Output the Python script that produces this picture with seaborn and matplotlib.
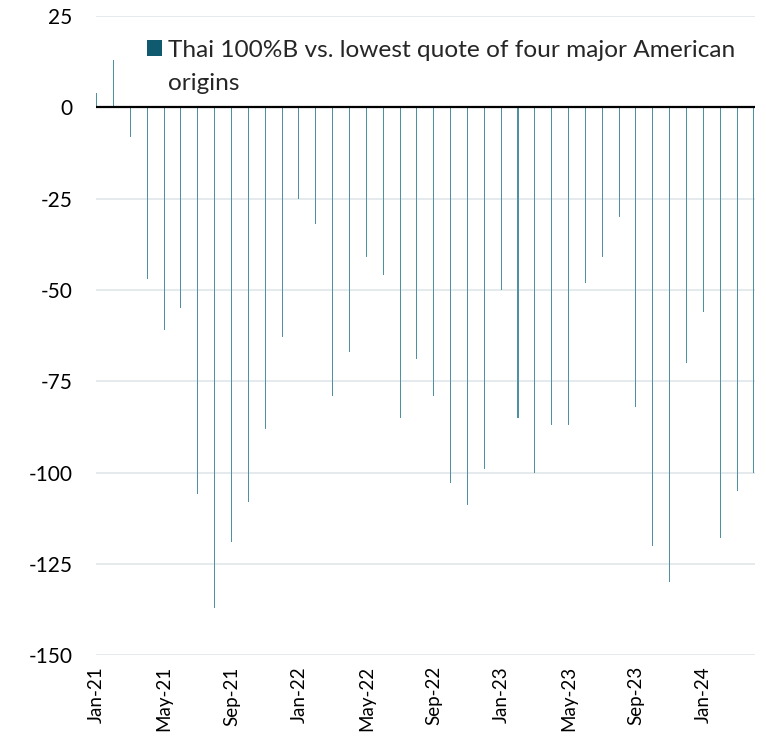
import numpy as np
import pandas as pd
import matplotlib
matplotlib.use("Agg")
import matplotlib.pyplot as plt
import seaborn as sns

# Monthly spread, Jan-21 .. Apr-24 (USD/t)
months = pd.date_range("2021-01-01", "2024-04-01", freq="MS").strftime("%b-%y").tolist()
spread = [4, 13, -8, -47, -61, -55, -106, -137, -119, -108, -88, -63,
          -25, -32, -79, -67, -41, -46, -85, -69, -79, -103, -109, -99,
          -50, -85, -100, -87, -87, -48, -41, -30, -82, -120, -130, -70,
          -56, -118, -105, -100]
series_name = "Thai 100%B vs. lowest quote of four major American"
series_name_cont = "origins"
yticks = [25, 0, -25, -50, -75, -100, -125, -150]

df = pd.DataFrame({"month": months, "spread": spread})

sns.set_theme(style="white")
plt.rcParams["font.family"] = ["Lato", "DejaVu Sans"]

fig = plt.figure(figsize=(7.66, 7.36), dpi=100)
ax = fig.add_axes([0.1253, 0.110, 0.8603, 0.868])

legend_color = "#0f5a6e"
bar_color = "#4f91a3"
sns.barplot(data=df, x="month", y="spread", color=bar_color, width=0.06,
            saturation=1, linewidth=0, ax=ax, label=series_name)

# grid + zero line
for v in yticks:
    ax.axhline(v, color="#e3e8eb", lw=1.3, zorder=0)
ax.axhline(0, color="black", lw=1.6, zorder=3)

ax.set_ylim(-150, 25)
ax.set_xlim(-0.04, len(months) - 1 + 0.06)
ax.set_yticks(yticks)
ax.set_yticklabels([str(v) for v in yticks], fontsize=15)
ax.tick_params(axis="y", length=0, pad=17, colors="black")
ax.set_xticks(range(0, len(months), 4))
ax.set_xticklabels(months[::4], rotation=90, fontsize=13.5)
ax.tick_params(axis="x", length=0, pad=8, colors="black")
ax.set_xlabel("")
ax.set_ylabel("")
for s in ax.spines.values():
    s.set_visible(False)

leg = ax.legend(loc="upper left", bbox_to_anchor=(0.062, 0.978), frameon=False,
                fontsize=17.6, handlelength=0.62, handleheight=0.62, handletextpad=0.25,
                borderaxespad=0)
for h in leg.legend_handles:
    h.set_color(legend_color)

# wrapped second line of the legend label, aligned under the first
fig.canvas.draw()
bb = leg.get_texts()[0].get_window_extent()
fig.text(bb.x0 / fig.bbox.width, (bb.y0 - 33) / fig.bbox.height, series_name_cont,
         fontsize=17.6, color=leg.get_texts()[0].get_color(), ha="left", va="bottom")

fig.savefig("out.png", dpi=100)
